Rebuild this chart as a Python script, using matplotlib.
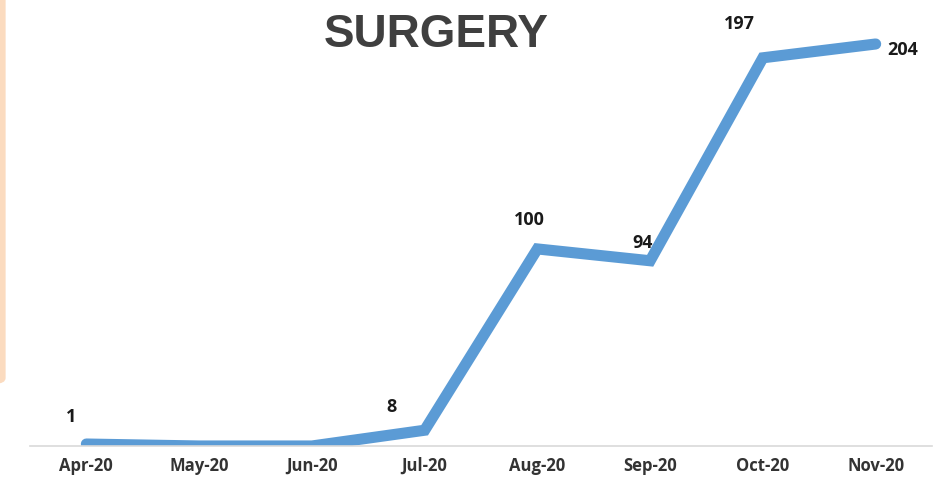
import matplotlib.pyplot as plt
from matplotlib.patches import FancyBboxPatch

# monthly surgery counts
months = ["Apr-20", "May-20", "Jun-20", "Jul-20", "Aug-20", "Sep-20", "Oct-20", "Nov-20"]
surgeries = [1, 0, 0, 8, 100, 94, 197, 204]
# which points carry a label (May/Jun have none in the original)
labelled = [True, False, False, True, True, True, True, True]

# label offsets in pixels, excel-ish placement
label_offsets = [(-15, 28), (0, 0), (0, 0), (-33, 24), (-8, 30), (-8, 19), (-23, 35), (27, -5)]

fig = plt.figure(figsize=(9.37, 4.81), dpi=100)
ax = fig.add_axes([0.032, 0.0707, 0.9627, 0.9013])

x = range(len(months))
ax.plot(x, surgeries, color="#5b9bd5", lw=8, solid_capstyle="round", solid_joinstyle="miter")

for i in x:
    if not labelled[i]:
        continue
    ax.annotate(str(surgeries[i]), (i, surgeries[i]), xytext=label_offsets[i],
                textcoords="offset pixels", ha="center", va="center",
                fontsize=13, fontweight="bold", family="Open Sans", color="#1a1a1a")

ax.set_xlim(-0.5, 7.5)
ax.set_ylim(0, 220)
ax.set_xticks(list(x))
ax.set_xticklabels(months, fontsize=12, fontweight="bold", family="Open Sans", color="#333333")
ax.tick_params(axis="x", length=0, pad=7)
ax.set_yticks([])
for s in ["top", "right", "left"]:
    ax.spines[s].set_visible(False)
ax.spines["bottom"].set_color("#d9d9d9")
ax.spines["bottom"].set_linewidth(1.2)

fig.text(0.466, 0.928, "SURGERY", ha="center", va="center", fontsize=33,
         fontweight="bold", family="Liberation Sans", color="#3f3f3f")

# peach strip on the left edge of the screenshot
strip = FancyBboxPatch((-0.02, 0.20), 0.026, 0.83, boxstyle="round,pad=0,rounding_size=0.012",
                       transform=fig.transFigure, facecolor="#fbdbbf", edgecolor="none")
fig.patches.append(strip)

fig.savefig("out.png", dpi=100)
